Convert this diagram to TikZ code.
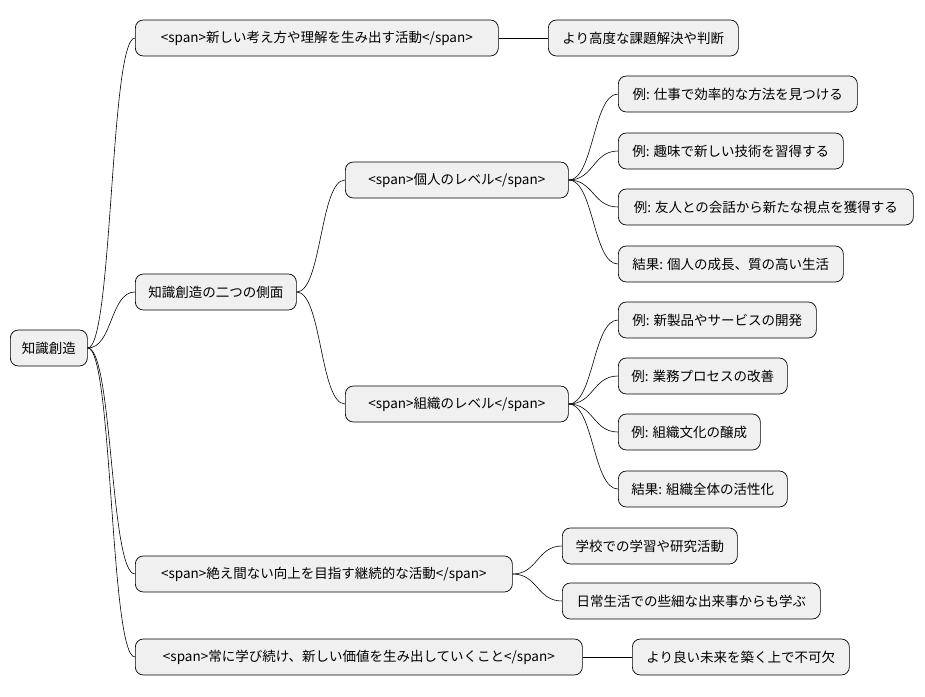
\documentclass[tikz,border=0pt]{standalone}
\usepackage{fontspec}
\setmainfont{Noto Sans CJK JP}
\begin{document}
\begin{tikzpicture}[x=1pt,y=-1pt,
  box/.style={draw=black,fill=black!6,rounded corners=8pt,minimum height=36pt,inner xsep=10pt,font=\fontsize{13.5}{15}\selectfont,anchor=west,line width=0.7pt},
  w/.style={minimum width=#1pt},
  lk/.style={line width=0.6pt}]
\useasboundingbox (0,0) rectangle (925,696);
\node[box,w=77] (r) at (10,348) {知識創造};
\node[box,w=363] (a) at (135,38) {<span>新しい考え方や理解を生み出す活動</span>};
\node[box,w=190] (a1) at (548,38) {より高度な課題解決や判断};
\node[box,w=161] (b) at (135,292) {知識創造の二つの側面};
\node[box,w=223] (p) at (345,180) {<span>個人のレベル</span>};
\node[box,w=239] (p1) at (618,94) {例: 仕事で効率的な方法を見つける};
\node[box,w=225] (p2) at (618,151) {例: 趣味で新しい技術を習得する};
\node[box,w=295] (p3) at (618,207) {例: 友人との会話から新たな視点を獲得する};
\node[box,w=225] (p4) at (618,264) {結果: 個人の成長、質の高い生活};
\node[box,w=223] (o) at (345,404) {<span>組織のレベル</span>};
\node[box,w=198] (o1) at (618,320) {例: 新製品やサービスの開発};
\node[box,w=169] (o2) at (618,376) {例: 業務プロセスの改善};
\node[box,w=142] (o3) at (618,432) {例: 組織文化の醸成};
\node[box,w=169] (o4) at (618,489) {結果: 組織全体の活性化};
\node[box,w=377] (c) at (135,574) {<span>絶え間ない向上を目指す継続的な活動</span>};
\node[box,w=175] (c1) at (562,546) {学校での学習や研究活動};
\node[box,w=258] (c2) at (562,601) {日常生活での些細な出来事からも学ぶ};
\node[box,w=447] (d) at (135,657) {<span>常に学び続け、新しい価値を生み出していくこと</span>};
\node[box,w=217] (d1) at (632,657) {より良い未来を築く上で不可欠};
\foreach \s/\t in {r/a,r/b,r/c,r/d,a/a1,b/p,b/o,p/p1,p/p2,p/p3,p/p4,o/o1,o/o2,o/o3,o/o4,c/c1,c/c2,d/d1}
  \draw[lk] (\s.east) .. controls +(25,0) and +(-25,0) .. (\t.west);
\end{tikzpicture}
\end{document}
